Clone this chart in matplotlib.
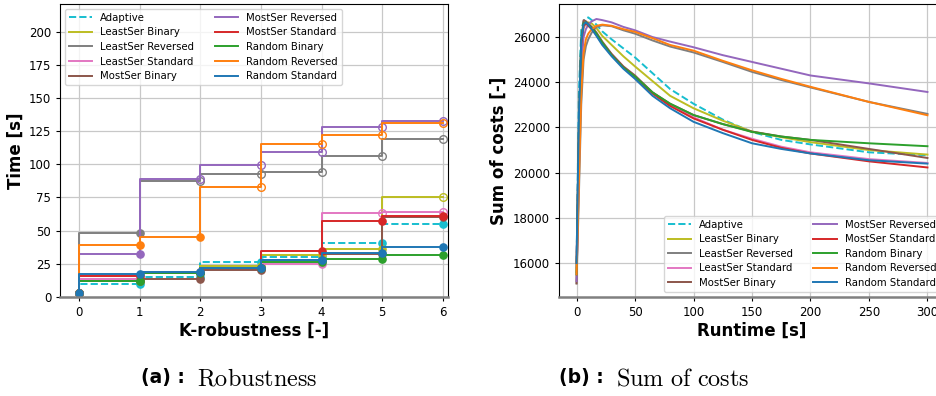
import matplotlib
matplotlib.use("Agg")
import matplotlib.pyplot as plt
import numpy as np

# ---------------- data ----------------
names = ["Adaptive", "LeastSer Binary", "LeastSer Reversed", "LeastSer Standard",
         "MostSer Binary", "MostSer Reversed", "MostSer Standard", "Random Binary",
         "Random Reversed", "Random Standard"]
colors = ["tab:cyan", "tab:olive", "tab:gray", "tab:pink", "tab:brown",
          "tab:purple", "tab:red", "tab:green", "tab:orange", "tab:blue"]
styles = ["--"] + ["-"] * 9

k_vals = [0, 1, 2, 3, 4, 5, 6]
rob_adaptive = [3, 9.8, 14.7, 26.5, 30, 40.6, 55.3]
rob_ls_binary = [3, 11.5, 19, 23, 31.8, 36, 75]
rob_ls_reversed = [3, 48, 87.5, 93, 94.3, 106, 119.5]
rob_ls_standard = [3, 13.6, 19, 21, 25, 63.3, 64]
rob_ms_binary = [3, 11.9, 13.2, 20.2, 28, 32, 60.5]
rob_ms_reversed = [3, 32, 89, 99.6, 109.2, 128.6, 133]
rob_ms_standard = [3, 15.7, 18, 21.5, 34.6, 57.3, 61]
rob_rnd_binary = [3, 12, 18, 22, 26.5, 28.8, 31.8]
rob_rnd_reversed = [3, 39.2, 45, 83.2, 115.5, 122.3, 131.6]
rob_rnd_standard = [3, 17.4, 19, 22, 27.5, 33, 37.4]
rob_all = [rob_adaptive, rob_ls_binary, rob_ls_reversed, rob_ls_standard, rob_ms_binary,
           rob_ms_reversed, rob_ms_standard, rob_rnd_binary, rob_rnd_reversed, rob_rnd_standard]
# index of first k drawn with an open marker (7 = none)
first_open = [7, 6, 2, 5, 7, 2, 7, 7, 3, 7]

runtime = [0, 2, 4, 6, 8, 10, 13, 17, 22, 30, 40, 50, 65, 80, 100, 125, 150, 175, 200, 250, 300]
soc_adaptive = [16000, 23500, 26300, 26700, 26820, 26870, 26750, 26550, 26250, 25900, 25500, 25100,
                24400, 23700, 23050, 22350, 21800, 21450, 21250, 20900, 20770]
soc_ls_binary = [15600, 21500, 25600, 26400, 26600, 26650, 26600, 26400, 26050, 25650, 25150, 24700,
                 24050, 23400, 22850, 22300, 21820, 21570, 21350, 21000, 20800]
soc_ls_reversed = [15100, 19000, 23000, 25000, 25600, 25900, 26200, 26450, 26520, 26480, 26300, 26150,
                   25850, 25580, 25320, 24900, 24460, 24100, 23770, 23130, 22600]
soc_ls_standard = [15800, 21500, 25500, 26450, 26600, 26550, 26400, 26150, 25750, 25250, 24700, 24250,
                   23550, 23000, 22450, 21900, 21500, 21150, 20900, 20600, 20430]
soc_ms_binary = [15100, 21000, 25800, 26750, 26700, 26600, 26450, 26200, 25800, 25250, 24700, 24300,
                 23550, 23050, 22550, 22150, 21820, 21600, 21450, 21050, 20650]
soc_ms_reversed = [15200, 20000, 24500, 26000, 26350, 26550, 26700, 26800, 26750, 26650, 26450, 26300,
                   26000, 25800, 25550, 25200, 24900, 24600, 24300, 23950, 23570]
soc_ms_standard = [16000, 22000, 25700, 26500, 26600, 26500, 26350, 26100, 25700, 25200, 24650, 24200,
                   23500, 22950, 22400, 21900, 21450, 21100, 20850, 20500, 20230]
soc_rnd_binary = [15500, 22000, 25900, 26600, 26650, 26550, 26400, 26150, 25750, 25200, 24650, 24250,
                  23550, 23050, 22550, 22150, 21800, 21600, 21450, 21300, 21170]
soc_rnd_reversed = [15500, 19500, 23500, 25300, 25900, 26150, 26350, 26500, 26550, 26500, 26350, 26230,
                    25950, 25650, 25400, 24950, 24530, 24150, 23800, 23130, 22540]
soc_rnd_standard = [16000, 22500, 25800, 26550, 26650, 26550, 26350, 26050, 25650, 25150, 24600, 24150,
                    23400, 22850, 22250, 21750, 21300, 21050, 20850, 20550, 20400]
soc_all = [soc_adaptive, soc_ls_binary, soc_ls_reversed, soc_ls_standard, soc_ms_binary,
           soc_ms_reversed, soc_ms_standard, soc_rnd_binary, soc_rnd_reversed, soc_rnd_standard]

# ---------------- figure ----------------
plt.rcParams["font.family"] = ["DejaVu Sans"]
plt.rcParams["mathtext.fontset"] = "cm"
fig = plt.figure(figsize=(9.37, 3.96), dpi=100)
W, H = 937.0, 396.0
axL = fig.add_axes([60.3 / W, (H - 296.7) / H, (447.7 - 60.3) / W, (296.7 - 4.3) / H])
axR = fig.add_axes([559.0 / W, (H - 296.5) / H, (945.0 - 559.0) / W, (296.5 - 4.3) / H])


def style_axes(ax):
    ax.grid(True, color="#c8c8c8", linewidth=0.9)
    ax.set_axisbelow(True)
    ax.spines["bottom"].set_color("#808080")
    ax.spines["bottom"].set_linewidth(1.8)
    for s in ["left", "top", "right"]:
        ax.spines[s].set_linewidth(0.8)
    ax.tick_params(labelsize=8.5, length=3)


# left: robustness
for name, col, ls, vals, fo in zip(names, colors, styles, rob_all, first_open):
    axL.plot(k_vals, vals, drawstyle="steps-pre", color=col, linestyle=ls, lw=1.4, label=name)
    axL.plot(k_vals[:fo], vals[:fo], linestyle="none", marker="o", ms=5.2, color=col)
    if fo < len(k_vals):
        axL.plot(k_vals[fo:], vals[fo:], linestyle="none", marker="o", ms=5.5,
                 mfc="none", mec=col, mew=1.0)

axL.set_xlim(-0.31, 6.08)
axL.set_ylim(0, 221)
axL.set_xticks(k_vals)
axL.set_yticks(np.arange(0, 201, 25))
axL.set_xlabel("K-robustness [-]", fontsize=12, fontweight="bold", labelpad=2)
axL.set_ylabel("Time [s]", fontsize=12, fontweight="bold", labelpad=3)
style_axes(axL)
axL.legend(loc="upper left", ncol=2, fontsize=7.3, handlelength=2.3, columnspacing=2.0,
           labelspacing=0.45, borderaxespad=0.45)

# right: sum of costs
for name, col, ls, vals in zip(names, colors, styles, soc_all):
    axR.plot(runtime, vals, color=col, linestyle=ls, lw=1.4, label=name)
axR.set_xlim(-15, 315)
axR.set_ylim(14520, 27450)
axR.set_xticks(np.arange(0, 301, 50))
axR.set_yticks(np.arange(16000, 26001, 2000))
axR.set_xlabel("Runtime [s]", fontsize=12, fontweight="bold", labelpad=2)
axR.set_ylabel("Sum of costs [-]", fontsize=12, fontweight="bold")
style_axes(axR)
axR.legend(loc="lower right", ncol=2, fontsize=7.3, handlelength=2.3, columnspacing=2.0,
           labelspacing=0.45, borderaxespad=0.45)

# captions
ycap = (H - 378) / H
fig.text(185 / W, ycap, "(a) :", fontsize=13.5, fontweight="bold", ha="right", va="center")
fig.text(197 / W, ycap, r"$\mathrm{Robustness}$", fontsize=17.5, ha="left", va="center")
fig.text(604 / W, ycap, "(b) :", fontsize=13.5, fontweight="bold", ha="right", va="center")
fig.text(616 / W, ycap, r"$\mathrm{Sum\ of\ costs}$", fontsize=17.5, ha="left", va="center")

fig.savefig("out.png", dpi=100)
